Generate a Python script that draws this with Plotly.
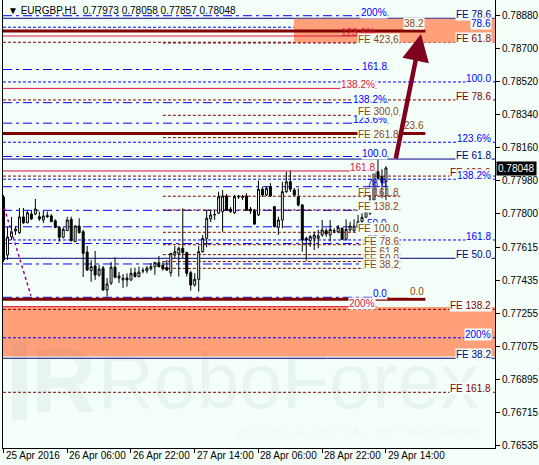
import plotly.graph_objects as go

# ---------------- data ----------------
hours = list(range(97))  # H1 bars from 25 Apr 2016 14:00
opens = [
    0.77890, 0.77573, 0.77673, 0.77704, 0.77695, 0.77781, 0.77749, 0.77797, 0.77797, 0.77782,
    0.77764, 0.77789, 0.77786, 0.77760, 0.77724, 0.77670, 0.77706, 0.77768, 0.77646, 0.77731,
    0.77700, 0.77589, 0.77487, 0.77513, 0.77464, 0.77502, 0.77382, 0.77420, 0.77506, 0.77447,
    0.77437, 0.77447, 0.77437, 0.77476, 0.77455, 0.77489, 0.77486, 0.77498, 0.77509, 0.77531,
    0.77517, 0.77504, 0.77476, 0.77573, 0.77582, 0.77610, 0.77586, 0.77476, 0.77409, 0.77440,
    0.77591, 0.77664, 0.77770, 0.77792, 0.77801, 0.77810, 0.77895, 0.77823, 0.77804, 0.77890,
    0.77891, 0.77895, 0.77824, 0.77815, 0.77792, 0.77932, 0.77901, 0.77946, 0.77837, 0.77724,
    0.77764, 0.77919, 0.77973, 0.77928, 0.77891, 0.77846, 0.77664, 0.77651, 0.77664, 0.77664,
    0.77682, 0.77706, 0.77682, 0.77706, 0.77700, 0.77719, 0.77659, 0.77710, 0.77706, 0.77731,
    0.77755, 0.77779, 0.77801, 0.77873, 0.78028, 0.78001, 0.77973]
highs = [
    0.77901, 0.77726, 0.77781, 0.77731, 0.77830, 0.77830, 0.77819, 0.77815, 0.77879, 0.77810,
    0.77815, 0.77810, 0.77797, 0.77768, 0.77731, 0.77724, 0.77782, 0.77782, 0.77737, 0.77774,
    0.77710, 0.77622, 0.77546, 0.77595, 0.77519, 0.77513, 0.77447, 0.77535, 0.77560, 0.77480,
    0.77469, 0.77473, 0.77502, 0.77504, 0.77509, 0.77504, 0.77513, 0.77528, 0.77537, 0.77568,
    0.77537, 0.77546, 0.77584, 0.77622, 0.77618, 0.77828, 0.77591, 0.77487, 0.77473, 0.77622,
    0.77682, 0.77819, 0.77815, 0.77819, 0.77919, 0.77928, 0.77906, 0.77835, 0.77901, 0.77901,
    0.77901, 0.77910, 0.77835, 0.77824, 0.77979, 0.77946, 0.77950, 0.77965, 0.77841, 0.77782,
    0.77973, 0.78028, 0.78033, 0.77939, 0.77937, 0.77852, 0.77673, 0.77682, 0.77700, 0.77710,
    0.77764, 0.77719, 0.77764, 0.77719, 0.77737, 0.77724, 0.77768, 0.77755, 0.77768, 0.77792,
    0.77801, 0.77828, 0.77901, 0.78037, 0.78101, 0.78041, 0.78058]
lows = [
    0.77535, 0.77546, 0.77655, 0.77682, 0.77688, 0.77742, 0.77746, 0.77764, 0.77790, 0.77759,
    0.77747, 0.77775, 0.77753, 0.77719, 0.77646, 0.77664, 0.77704, 0.77646, 0.77644, 0.77690,
    0.77453, 0.77486, 0.77427, 0.77437, 0.77455, 0.77376, 0.77345, 0.77409, 0.77446, 0.77420,
    0.77393, 0.77400, 0.77431, 0.77451, 0.77451, 0.77473, 0.77473, 0.77487, 0.77464, 0.77506,
    0.77487, 0.77486, 0.77455, 0.77557, 0.77455, 0.77555, 0.77455, 0.77378, 0.77400, 0.77373,
    0.77586, 0.77615, 0.77753, 0.77764, 0.77797, 0.77700, 0.77813, 0.77802, 0.77797, 0.77879,
    0.77873, 0.77813, 0.77797, 0.77737, 0.77786, 0.77890, 0.77895, 0.77890, 0.77724, 0.77682,
    0.77719, 0.77912, 0.77917, 0.77895, 0.77837, 0.77591, 0.77542, 0.77618, 0.77600, 0.77610,
    0.77673, 0.77673, 0.77646, 0.77692, 0.77692, 0.77655, 0.77651, 0.77699, 0.77699, 0.77720,
    0.77746, 0.77774, 0.77792, 0.77863, 0.77988, 0.77883, 0.77857]
closes = [
    0.77546, 0.77671, 0.77700, 0.77715, 0.77781, 0.77749, 0.77804, 0.77770, 0.77824, 0.77770,
    0.77786, 0.77783, 0.77755, 0.77724, 0.77670, 0.77713, 0.77764, 0.77651, 0.77731, 0.77695,
    0.77582, 0.77491, 0.77509, 0.77464, 0.77496, 0.77382, 0.77415, 0.77506, 0.77451, 0.77458,
    0.77446, 0.77437, 0.77473, 0.77455, 0.77480, 0.77486, 0.77501, 0.77509, 0.77531, 0.77509,
    0.77498, 0.77491, 0.77582, 0.77591, 0.77610, 0.77586, 0.77473, 0.77409, 0.77440, 0.77591,
    0.77664, 0.77774, 0.77792, 0.77794, 0.77891, 0.77895, 0.77819, 0.77810, 0.77891, 0.77893,
    0.77889, 0.77819, 0.77813, 0.77742, 0.77932, 0.77901, 0.77937, 0.77895, 0.77728, 0.77764,
    0.77919, 0.77973, 0.77932, 0.77901, 0.77846, 0.77655, 0.77655, 0.77673, 0.77682, 0.77677,
    0.77710, 0.77688, 0.77713, 0.77704, 0.77724, 0.77659, 0.77713, 0.77731, 0.77731, 0.77755,
    0.77779, 0.77810, 0.77873, 0.78028, 0.77992, 0.77968, 0.78048]

# x-axis ticks (hours) and labels
x_tick_vals = [0, 16, 32, 48, 64, 80, 96]
x_tick_text = ["25 Apr 2016", "26 Apr 06:00", "26 Apr 22:00", "27 Apr 14:00",
               "28 Apr 06:00", "28 Apr 22:00", "29 Apr 14:00"]
# y-axis ticks
y_tick_vals = [0.78880, 0.78700, 0.78520, 0.78340, 0.78160, 0.77980, 0.77800,
               0.77615, 0.77435, 0.77255, 0.77075, 0.76895, 0.76715, 0.76535]

# Fibonacci expansion (blue long dash, ends at the label)
exp_blue_levels = [0.77342, 0.77524, 0.77636, 0.77727, 0.77817, 0.77946, 0.78111,
                   0.78293, 0.78405, 0.78586, 0.78880]
exp_blue_labels = ["0.0", "23.6", "38.2", "50.0", "61.8", "78.6", "100.0",
                   "123.6%", "138.2%", "161.8", "200%"]
exp_blue_end = 96.6

# Fibonacci expansion (blue short dash, full width, labels at right)
exp_right_levels = [0.78817, 0.78518, 0.78189, 0.77987, 0.77655, 0.77121]
exp_right_labels = ["78.6", "100.0", "123.6%", "138.2%", "161.8", "200%"]

# FE levels (navy, full width)
fe_navy_levels = [0.78866, 0.78097, 0.77555, 0.77009]
fe_navy_labels = ["FE 78.6", "FE 61.8", "FE 50.0", "FE 38.2"]

# FE levels (dark red dashed, full width)
fe_red_levels = [0.78735, 0.78420, 0.78004, 0.77276, 0.76823]
fe_red_labels = ["FE 61.8", "FE 78.6", "FE 100.0", "FE 138.2", "FE 161.8"]

# FE levels (dark red dashed, partial)
fe_part_levels = [0.78731, 0.78336, 0.78214, 0.77894, 0.77819, 0.77697,
                  0.77629, 0.77575, 0.77537, 0.77500]
fe_part_labels = ["FE 423,6", "FE 300,0", "FE 261.8", "FE 161.8", "FE 138.2",
                  "FE 100.0", "FE 78.6", "FE 61.8", "FE 50.0", "FE 38.2"]
fe_part_start, fe_part_end = 40.0, 99.6

# crimson expansion
crim_levels = [0.78769, 0.78483, 0.78032, 0.77291]
crim_labels = ["123.6%", "138.2%", "161.8", "200%"]
crim_end = 93.6

# Fibonacci retracement (thick dark red)
fibo_levels = [0.77331, 0.78237, 0.78797]
fibo_labels = ["0.0", "23.6", "38.2"]
fibo_end = 105.9

# target zones
zone1 = dict(x0=72.9, y0=0.78733, y1=0.78864)
zone2 = dict(y0=0.77018, y1=0.77289)

# arrow (tail -> tip)
arrow_tail = (98.4, 0.78092)
arrow_tip = (104.8, 0.78780)

# dotted trend line
trend_x = [0.2, 6.9]
trend_y = [0.77830, 0.77350]

last_price = 0.78048

# ---------------- style ----------------
BG = "#F5FFFA"
FONT = "Liberation Sans, Arial, sans-serif"
BLUE = "#0000FF"
NAVY = "#000080"
DRED = "#800000"
BROWN = "#8B4513"
CRIMSON = "#DC143C"
SALMON = "#FFA07A"
XMIN, XMAX = -0.125, 123.375
YMIN, YMAX = 0.765188, 0.789658

fig = go.Figure()

shapes = []
shapes.append(dict(type="rect", xref="x", yref="y", x0=zone1["x0"], x1=XMAX,
                   y0=zone1["y0"], y1=zone1["y1"], fillcolor=SALMON, line_width=0, layer="below"))
shapes.append(dict(type="rect", xref="paper", yref="y", x0=0, x1=1,
                   y0=zone2["y0"], y1=zone2["y1"], fillcolor=SALMON, line_width=0, layer="below"))


def hline(y, x0, x1, color, dash, width=1, xref="x"):
    shapes.append(dict(type="line", xref=xref, yref="y", x0=x0, x1=x1, y0=y, y1=y,
                       line=dict(color=color, width=width, dash=dash), layer="below"))


for v in exp_blue_levels:
    hline(v, XMIN, exp_blue_end, BLUE, "9px,4px,3px,4px")
for v in exp_right_levels:
    hline(v, 0, 1, BLUE, "3px,2px", xref="paper")
for v in fe_navy_levels:
    hline(v, 0, 1, NAVY, "solid", xref="paper")
for v in fe_red_levels:
    hline(v, 0, 1, DRED, "3px,2px", xref="paper")
for v in fe_part_levels:
    hline(v, fe_part_start, fe_part_end, DRED, "3px,2px")
for v in crim_levels:
    hline(v, XMIN, crim_end, CRIMSON, "solid")
for v in fibo_levels:
    hline(v, XMIN, fibo_end, DRED, "solid", width=3)

fig.add_trace(go.Scatter(x=trend_x, y=trend_y, mode="lines",
                         line=dict(color="#990099", width=1.5, dash="dot"),
                         hoverinfo="skip", showlegend=False))

fig.add_trace(go.Candlestick(
    x=hours, open=opens, high=highs, low=lows, close=closes,
    increasing=dict(line=dict(color="black", width=1), fillcolor="white"),
    decreasing=dict(line=dict(color="black", width=1), fillcolor="black"),
    whiskerwidth=0, showlegend=False, hoverinfo="skip"))

annotations = []

# watermark (drawn first so labels sit on top)
WM = "rgba(90,115,115,0.08)"
shapes.append(dict(type="rect", xref="paper", yref="paper", x0=0.018, x1=0.049,
                   y0=0.063, y1=0.237, fillcolor=WM, line_width=0, layer="above"))
annotations.append(dict(x=0.052, y=0.15, xref="paper", yref="paper", text="<b>R</b>",
                        showarrow=False, xanchor="left", yanchor="middle",
                        font=dict(family=FONT, size=90, color=WM)))
annotations.append(dict(x=0.189, y=0.15, xref="paper", yref="paper", text="RoboForex",
                        showarrow=False, xanchor="left", yanchor="middle",
                        font=dict(family=FONT, size=77, color=WM)))
annotations.append(dict(x=0.98, y=0.035, xref="paper", yref="paper",
                        text="ИСПОЛЬЗУЙ РОБОТОВ – ПОЛУЧАЙ ПРИБЫЛЬ",
                        showarrow=False, xanchor="right", yanchor="middle",
                        font=dict(family=FONT, size=11, color=WM)))


def label(x, y, text, color, bg=True, xref="x", yshift=-3):
    annotations.append(dict(x=x, y=y, xref=xref, yref="y", text=text, showarrow=False,
                            xanchor="right", yanchor="bottom", yshift=yshift,
                            font=dict(family=FONT, size=10, color=color),
                            bgcolor=BG if bg else "rgba(0,0,0,0)", borderpad=0))


no_bg_blue = {"78.6"}
for v, t in zip(exp_blue_levels, exp_blue_labels):
    label(exp_blue_end, v, t, BLUE, bg=t not in no_bg_blue)
for v, t in zip(crim_levels, crim_labels):
    label(crim_end, v, t, CRIMSON, bg=(t != "123.6%"))
no_bg_fe = {"FE 161.8"}
for v, t in zip(fe_part_levels, fe_part_labels):
    label(fe_part_end, v, t, BROWN, bg=t not in no_bg_fe)
for v, t in zip(fibo_levels, fibo_labels):
    label(fibo_end, v, t, BROWN, yshift=1)
for v, t in zip(fe_red_levels, fe_red_labels):
    label(0.994, v, t, DRED, xref="paper")
for v, t in zip(fe_navy_levels, fe_navy_labels):
    label(0.994, v, t, NAVY, xref="paper")
for v, t in zip(exp_right_levels, exp_right_labels):
    label(0.994, v, t, BLUE, xref="paper")

# x tick labels (left-aligned at ticks, MT4 style)
for xv, t in zip(x_tick_vals, x_tick_text):
    annotations.append(dict(x=xv, y=0, xref="x", yref="paper", text=t, showarrow=False,
                            xanchor="left", yanchor="top", yshift=0, xshift=0,
                            font=dict(family=FONT, size=10, color="black")))

# current price box
annotations.append(dict(x=1, y=last_price, xref="paper", yref="y", text=f"{last_price:.5f}",
                        showarrow=False, xanchor="left", yanchor="middle", xshift=1,
                        font=dict(family=FONT, size=10, color="white"),
                        bgcolor="black", borderpad=1))

# title
annotations.append(dict(x=0, y=1, xref="paper", yref="paper",
                        text="▼ EURGBP,H1  0.77973 0.78058 0.77857 0.78048",
                        showarrow=False, xanchor="left", yanchor="top", xshift=3, yshift=-3,
                        font=dict(family=FONT, size=10, color="black")))

# arrow
annotations.append(dict(x=arrow_tip[0], y=arrow_tip[1], ax=arrow_tail[0], ay=arrow_tail[1],
                        xref="x", yref="y", axref="x", ayref="y", text="", showarrow=True,
                        arrowhead=2, arrowsize=1.2, arrowwidth=4.5, arrowcolor="#800020"))

fig.update_layout(
    width=539, height=465,
    margin=dict(l=3, r=42, t=0, b=17),
    paper_bgcolor=BG, plot_bgcolor=BG,
    showlegend=False,
    shapes=shapes, annotations=annotations,
    xaxis=dict(range=[XMIN, XMAX], showgrid=False, zeroline=False,
               rangeslider=dict(visible=False),
               tickvals=x_tick_vals, showticklabels=False,
               ticks="outside", ticklen=4, tickcolor="black",
               showline=True, linecolor="black", linewidth=1),
    yaxis=dict(range=[YMIN, YMAX], side="right", showgrid=False, zeroline=False,
               tickvals=y_tick_vals, ticktext=[f"{v:.5f}" for v in y_tick_vals],
               ticks="outside", ticklen=4, tickcolor="black",
               tickfont=dict(family=FONT, size=10, color="black"),
               showline=True, mirror=True, linecolor="black", linewidth=1),
    font=dict(family=FONT),
)

fig.write_html("out.html",
               config={"displayModeBar": False},
               post_script="document.body.style.margin='0';document.body.style.padding='0';"
                           "document.body.style.background='" + BG + "';")
